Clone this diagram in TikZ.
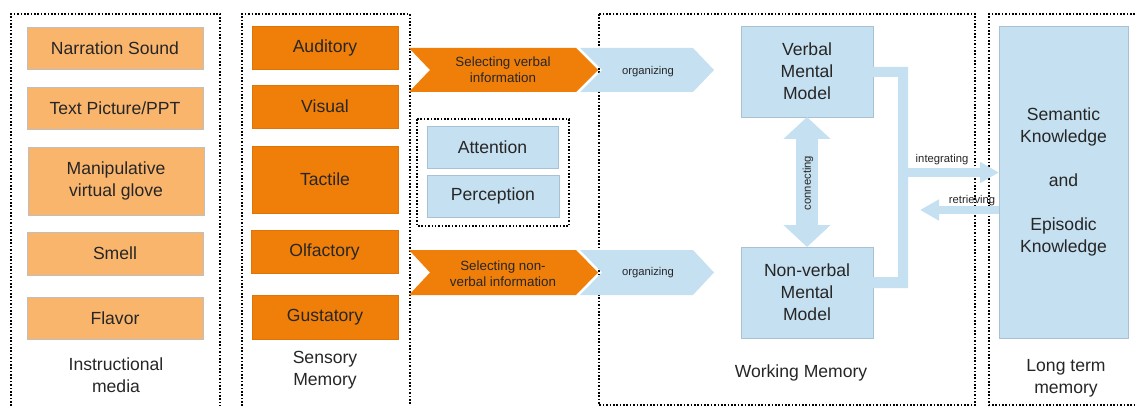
\documentclass[tikz,border=0pt]{standalone}
\usepackage{fontspec}
\setmainfont{Liberation Sans}
\usetikzlibrary{arrows.meta}
\definecolor{mediaorange}{RGB}{250,181,109}
\definecolor{senseorange}{RGB}{240,127,9}
\definecolor{memblue}{RGB}{197,224,241}
\definecolor{boxline}{RGB}{191,191,191}
\definecolor{blueline}{RGB}{168,194,212}
\definecolor{inktext}{RGB}{38,38,38}

\tikzset{
  mediabox/.style={draw=boxline,fill=mediaorange,line width=0.6pt,minimum width=4.4cm,minimum height=1.05cm,inner sep=1pt,align=center,outer sep=0pt},
  sensebox/.style={draw=senseorange!92!black,fill=senseorange,line width=0.4pt,minimum width=3.65cm,minimum height=1.075cm,inner sep=1pt,align=center,outer sep=0pt},
  bluebox/.style={draw=blueline,fill=memblue,line width=0.5pt,inner sep=1pt,align=center,outer sep=0pt},
  groupframe/.style={line width=1pt,dash pattern=on 1.1pt off 1.3pt},
  smalltext/.style={font=\fontsize{9.5}{11.3}\selectfont,align=center},
  tinytext/.style={font=\fontsize{8}{9.6}\selectfont},
  bigarrow/.style={draw=memblue,line cap=butt}
}

\begin{document}
\begin{tikzpicture}[x=0.025cm,y=-0.025cm,font=\fontsize{12.5}{15.6}\selectfont,text=inktext,line join=miter]
\useasboundingbox (0,0) rectangle (1135,406);

% dotted group frames
\draw[groupframe] (11,406) -- (11,14) -- (220,14) -- (220,406);
\draw[groupframe] (242,406) -- (242,14) -- (410,14) -- (410,406);
\draw[groupframe] (417,119) rectangle (569,226);
\draw[groupframe] (599,14) rectangle (975,405);
\draw[groupframe] (1135,14) -- (989,14) -- (989,405) -- (1135,405);

% instructional media
\node[mediabox] (narration) at (115,48) {Narration Sound};
\node[mediabox] (textppt) at (115,108) {Text Picture/PPT};
\node[mediabox,minimum height=1.7cm] (glove) at (116,181) {Manipulative\\virtual glove};
\node[mediabox,minimum height=1.075cm] (smell) at (115,253.5) {Smell};
\node[mediabox] (flavor) at (115,318) {Flavor};
\node[align=center] (medialabel) at (116,375) {Instructional\\media};

% sensory memory
\node[sensebox] (auditory) at (325,47.5) {Auditory};
\node[sensebox] (visual) at (325,106.5) {Visual};
\node[sensebox,minimum height=1.675cm] (tactile) at (325,179.5) {Tactile};
\node[sensebox,minimum width=3.675cm] (olfactory) at (324.5,251.5) {Olfactory};
\node[sensebox,minimum height=1.1cm] (gustatory) at (325,317) {Gustatory};
\node[align=center] (senselabel) at (325,370.5) {Sensory\\Memory};

% attention and perception
\node[bluebox,minimum width=3.275cm,minimum height=1.05cm] (attention) at (492.5,147) {Attention};
\node[bluebox,minimum width=3.3cm,minimum height=1.05cm] (perception) at (493,196) {Perception};

% selecting and organizing chevrons
\fill[senseorange] (409,48) -- (576,48) -- (598,70) -- (576,92) -- (409,92) -- (430,70) -- cycle;
\fill[memblue] (580,48) -- (693,48) -- (714,70) -- (693,92) -- (580,92) -- (602,70) -- cycle;
\fill[senseorange] (409,250) -- (576,250) -- (598,272.5) -- (576,295) -- (409,295) -- (430,272.5) -- cycle;
\fill[memblue] (580,250) -- (693,250) -- (714,272.5) -- (693,295) -- (580,295) -- (602,272.5) -- cycle;
\node[smalltext] (selverbal) at (503,70) {Selecting verbal\\information};
\node[tinytext] (orgverbal) at (648,72) {organizing};
\node[smalltext] (selnonverbal) at (503,273.5) {Selecting non-\\verbal information};
\node[tinytext] (orgnonverbal) at (648,273) {organizing};

% working memory
\node[bluebox,minimum width=3.3cm,minimum height=2.275cm] (verbalmm) at (807,71.5) {Verbal\\Mental\\Model};
\node[bluebox,minimum width=3.3cm,minimum height=2.275cm] (nonverbalmm) at (807,292.5) {Non-verbal\\Mental\\Model};
\node (wmlabel) at (801,373) {Working Memory};
\draw[bigarrow,line width=15.6pt,{Triangle[length=15.6pt,width=32.6pt]}-{Triangle[length=15.6pt,width=32.6pt]}] (verbalmm.south) -- (nonverbalmm.north);
\node[tinytext,rotate=90] (connlabel) at (808,183) {connecting};

% long term memory
\node[bluebox,minimum width=3.225cm,minimum height=7.8cm] (knowledge) at (1063.5,182) {Semantic\\Knowledge\\[15.6pt]and\\[15.6pt]Episodic\\Knowledge};
\node[align=center] (ltmlabel) at (1066,378.5) {Long term\\memory};

% integrating and retrieving
\fill[memblue] (verbalmm.east |- 0,67) -- (908,67) -- (908,288) -- (nonverbalmm.east |- 0,288) -- (nonverbalmm.east |- 0,277) -- (898,277) -- (898,77) -- (verbalmm.east |- 0,77) -- cycle;
\coordinate (bracket) at (906,172.5);
\coordinate (retrend) at (920,210);
\draw[bigarrow,line width=5.7pt,-{Triangle[length=13.5pt,width=14.2pt]}] (bracket) -- (bracket -| knowledge.west);
\draw[bigarrow,line width=5pt,-{Triangle[length=13.5pt,width=14.2pt]}] (retrend -| knowledge.west) -- (retrend);
\node[tinytext] (intlabel) at (942,160) {integrating};
\node[tinytext] (retlabel) at (972,200.5) {retrieving};
\end{tikzpicture}
\end{document}
